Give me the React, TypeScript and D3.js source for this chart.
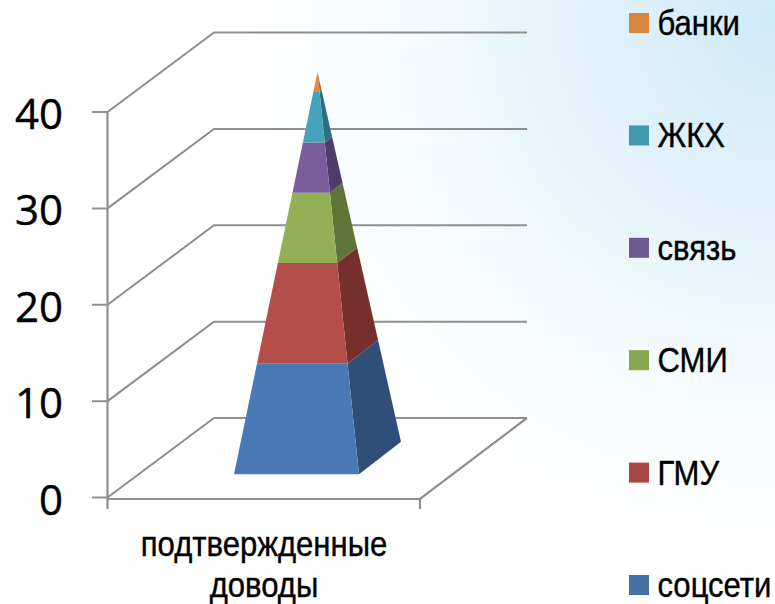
import React from "react";
import * as d3 from "d3";

const seriesNames = ["соцсети", "ГМУ", "СМИ", "связь", "ЖКХ", "банки"];
const seriesValues = [11, 10, 7, 5, 5, 2];
const frontColors = ["#4a7ab3", "#b34e4a", "#92b055", "#7c5d9b", "#45a2ba", "#e28a3c"];
const sideColors = ["#2f4f78", "#75302d", "#5f7537", "#513b69", "#2d6f82", "#a8642a"];
const legendColors = ["#4672a8", "#aa4643", "#89a54e", "#71588f", "#4198af", "#db843d"];
const yTicks = [0, 10, 20, 30, 40];
const categoryLines = ["подтвержденные", "доводы"];

const W = 775, H = 604;
const y = d3.scaleLinear().domain([0, 40]).range([497.5, 112]);
const depthX = 106.5, depthY = -79.5;
const plotRight = 420;
const grid = "#8f8f8f";

// pyramid footprint
const baseCx = 317.5, baseCy = 458, halfW = 62.5, halfDx = 21, halfDy = -16.25;
const pyrY = d3.scaleLinear().domain([0, 40]).range([baseCy, 72]);
const pt = (u: number, v: number, val: number): [number, number] => {
  const k = 1 - val / 40;
  return [baseCx + k * (u * halfW + v * halfDx), pyrY(val) + k * v * halfDy];
};

const stackRow: Record<string, number> = {};
seriesNames.forEach((n, i) => (stackRow[n] = seriesValues[i]));
const stacked = d3.stack<Record<string, number>>().keys(seriesNames)([stackRow]);
const line = d3.line();
const legendY = d3.scalePoint<string>().domain([...seriesNames].reverse()).range([23, 585]);
const narrow = 0.875;

export default function App() {
  return (
    <svg width={W} height={H} viewBox={`0 0 ${W} ${H}`} style={{ position: "absolute", left: 0, top: 0, display: "block" }}>
      <defs>
        <radialGradient id="bg" gradientUnits="userSpaceOnUse" cx={775} cy={20} r={530}>
          <stop offset="0" stopColor="#cfeaf8" />
          <stop offset="0.35" stopColor="#e2f2fb" />
          <stop offset="0.7" stopColor="#f5fbfe" />
          <stop offset="1" stopColor="#ffffff" />
        </radialGradient>
      </defs>
      <rect width={W} height={H} fill="url(#bg)" />
      {yTicks.map((t) => (
        <path
          key={t}
          d={line([[92, y(t)], [107.5, y(t)], [107.5 + depthX, y(t) + depthY], [527, y(t) + depthY]]) ?? ""}
          fill="none"
          stroke={grid}
          strokeWidth={2}
        />
      ))}
      <path d={line([[107.5, y(40)], [107.5, 509]]) ?? ""} fill="none" stroke={grid} strokeWidth={2.2} />
      <path d={line([[107.5, 499], [plotRight, 499], [527, y(0) + depthY]]) ?? ""} fill="none" stroke={grid} strokeWidth={2.2} />
      <path d={line([[plotRight, 499], [plotRight, 509]]) ?? ""} fill="none" stroke={grid} strokeWidth={2.2} />
      {/* pyramid */}
      {stacked.map((s, i) => {
        const [v0, v1] = s[0];
        const front = [pt(-1, -1, v0), pt(1, -1, v0), pt(1, -1, v1), pt(-1, -1, v1)];
        const side = [pt(1, -1, v0), pt(1, 1, v0), pt(1, 1, v1), pt(1, -1, v1)];
        return (
          <g key={s.key}>
            <path d={(line(side) ?? "") + "Z"} fill={sideColors[i]} />
            <path d={(line(front) ?? "") + "Z"} fill={frontColors[i]} />
          </g>
        );
      })}
      {/* y labels */}
      {yTicks.map((t) => (
        <text key={t} x={63} y={y(t) + 17} textAnchor="end" fontFamily="'Open Sans'" fontSize={42} fill="#000" stroke="#000" strokeWidth={0.4}>
          {t}
        </text>
      ))}
      {/* category */}
      {categoryLines.map((l, i) => (
        <text
          key={l}
          transform={`translate(264,${555.5 + i * 41.5}) scale(${narrow},1)`}
          textAnchor="middle"
          fontFamily="'Liberation Sans'"
          fontSize={35.5}
          fill="#000"
          stroke="#000"
          strokeWidth={0.4}
        >
          {l}
        </text>
      ))}
      {/* legend */}
      {seriesNames.map((n, i) => (
        <g key={n}>
          <rect x={629} y={(legendY(n) ?? 0) - 10} width={20} height={20} fill={legendColors[i]} />
          <text
            transform={`translate(657.5,${(legendY(n) ?? 0) + 12}) scale(${narrow},1)`}
            fontFamily="'Liberation Sans'"
            fontSize={35.5}
            fill="#000"
            stroke="#000"
            strokeWidth={0.4}
          >
            {n}
          </text>
        </g>
      ))}
    </svg>
  );
}
